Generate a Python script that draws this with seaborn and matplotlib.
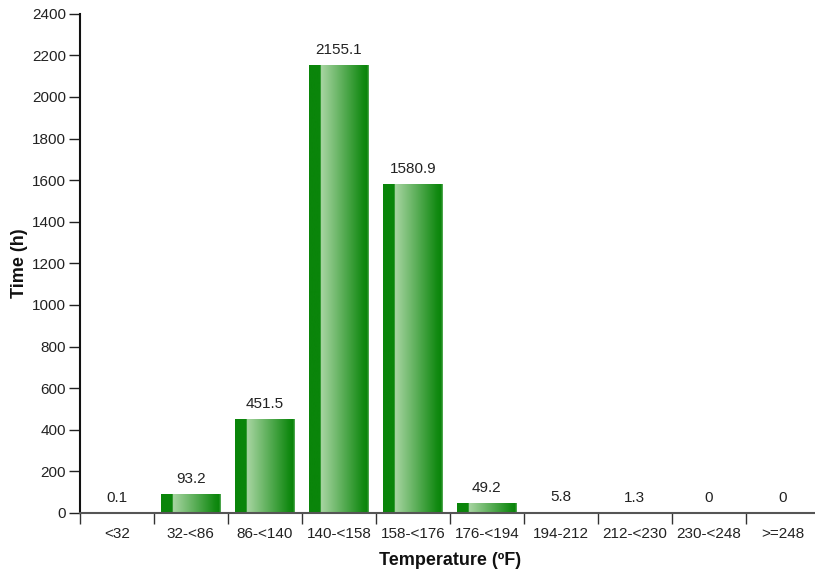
import numpy as np
import pandas as pd
import matplotlib
matplotlib.use("Agg")
import matplotlib.pyplot as plt
import seaborn as sns
from matplotlib.colors import LinearSegmentedColormap

categories = ["<32", "32-<86", "86-<140", "140-<158", "158-<176", "176-<194",
              "194-212", "212-<230", "230-<248", ">=248"]
values = [0.1, 93.2, 451.5, 2155.1, 1580.9, 49.2, 5.8, 1.3, 0, 0]
labels = ["0.1", "93.2", "451.5", "2155.1", "1580.9", "49.2", "5.8", "1.3", "0", "0"]

sns.set_theme(style="white")
plt.rcParams["font.family"] = ["Liberation Sans", "DejaVu Sans"]

fig = plt.figure(figsize=(8.15, 5.75), dpi=100)
ax = fig.add_axes([0.098, 0.108, 0.908, 0.868])

df = pd.DataFrame({"cat": categories, "val": values})
dark = "#0a850a"
sns.barplot(data=df, x="cat", y="val", color=dark, width=0.8, ax=ax,
            saturation=1, edgecolor="none")

cmap = LinearSegmentedColormap.from_list(
    "g", [(0.0, "#0a850a"), (0.19, "#0a850a"), (0.2, "#a8d5a2"),
          (0.9, "#138a13"), (0.97, "#0a850a"), (1.0, "#5fae5f")])
grad = np.linspace(0, 1, 256).reshape(1, -1)
for p in ax.patches:
    x0, y0 = p.get_x(), p.get_y()
    w, h = p.get_width(), p.get_height()
    if h <= 0:
        continue
    im = ax.imshow(grad, cmap=cmap, aspect="auto",
                   extent=[x0, x0 + w, y0, y0 + h], zorder=p.get_zorder() + 0.1)
    im.set_clip_path(p)

for i, (v, lab) in enumerate(zip(values, labels)):
    ax.text(i, v + 38, lab, ha="center", va="bottom", fontsize=11, color="#222222")

ax.set_xlim(-0.5, len(categories) - 0.5)
ax.set_ylim(0, 2400)
ax.set_yticks(range(0, 2401, 200))
ax.set_xticks(np.arange(-0.5, len(categories) - 0.5, 1), minor=False)
ax.set_xticklabels([])
ax.set_xticks(range(len(categories)), minor=True)
ax.set_xticklabels(categories, minor=True)
ax.tick_params(axis="x", which="major", length=8, width=1, color="#333333", direction="out", bottom=True)
ax.tick_params(axis="x", which="minor", length=0, labelsize=11, pad=10, colors="#222222")
ax.tick_params(axis="y", length=8, width=1, color="#222222", direction="out", left=True,
               labelsize=11, labelcolor="#222222", pad=2)

for s in ["top", "right"]:
    ax.spines[s].set_visible(False)
ax.spines["left"].set_color("#111111")
ax.spines["left"].set_linewidth(1.5)
ax.spines["bottom"].set_color("#555555")
ax.spines["bottom"].set_linewidth(1.5)

ax.set_xlabel("Temperature (ºF)", fontsize=13, fontweight="bold", labelpad=8, color="#111111")
ax.set_ylabel("Time (h)", fontsize=13, fontweight="bold", labelpad=3, color="#111111")
ax.grid(False)

fig.savefig("out.png", dpi=100)
